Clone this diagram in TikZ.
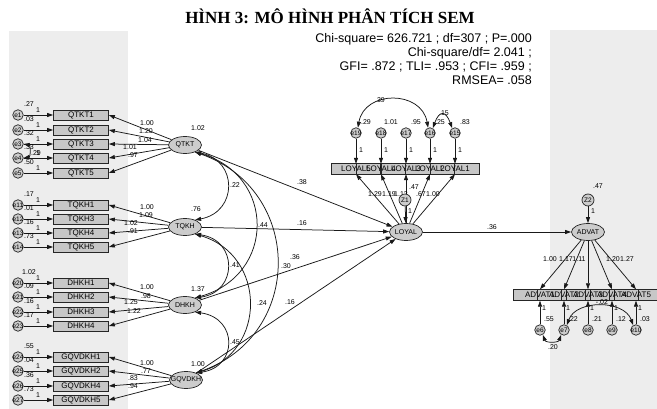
\documentclass[tikz,border=0pt]{standalone}
\usepackage{fontspec}
\setmainfont{Liberation Sans}
\newfontfamily\titlefont{Liberation Serif}
\usetikzlibrary{arrows.meta,shapes.geometric}

\newcommand{\zw}[1]{\makebox[0pt]{#1}}

\begin{document}
\begin{tikzpicture}[x=1pt,y=1pt,
    ind/.style={fill=black!22,minimum width=55pt,minimum height=10pt,inner sep=0pt,font=\fontsize{8}{8}\selectfont},
    lat/.style={ellipse,draw=black!85,line width=0.7pt,fill=black!20,minimum width=33pt,minimum height=17pt,inner sep=0pt,font=\fontsize{7}{7}\selectfont},
    err/.style={circle,draw=black!85,line width=0.7pt,fill=black!20,minimum size=10.5pt,inner sep=0pt,font=\fontsize{6.5}{6.5}\selectfont},
    est/.style={inner sep=0pt,font=\fontsize{7}{7}\selectfont},
    reg/.style={draw=black!90,line width=0.75pt,-{Triangle[length=6pt,width=4pt]}},
    cov/.style={draw=black!90,line width=0.75pt,{Triangle[length=6pt,width=4pt]}-{Triangle[length=6pt,width=4pt]}}
  ]
  \useasboundingbox (0,0) rectangle (657,-409);
  \fill[black!7] (9,-31) rectangle (128,-409);
  \fill[black!7] (550,-30) rectangle (657,-409);

  \node[font=\titlefont\bfseries\fontsize{17}{17}\selectfont] (title) at (330,-16) {HÌNH 3: MÔ HÌNH PHÂN TÍCH SEM};
  \node[anchor=north east,align=right,inner sep=0pt,font=\fontsize{12.5}{14}\selectfont] (fit) at (532,-33)
    {Chi-square= 626.721 ; df=307 ; P=.000\\Chi-square/df= 2.041 ;\\GFI= .872 ; TLI= .953 ; CFI= .959 ;\\RMSEA= .058};

  % latent variables
  \node[lat] (qtkt) at (185,-145) {\zw{QTKT}};
  \node[lat] (tqkh) at (185,-227) {\zw{TQKH}};
  \node[lat] (dhkh) at (185,-305) {\zw{DHKH}};
  \node[lat] (gqvdkh) at (186,-380) {\zw{GQVDKH}};
  \node[lat] (loyal) at (406,-232) {\zw{LOYAL}};
  \node[lat] (advat) at (588,-232) {\zw{ADVAT}};
  \node[est] (vqtkt) at (198,-128) {1.02};
  \node[est] (vtqkh) at (196,-209) {.76};
  \node[est] (vdhkh) at (198,-289) {1.37};
  \node[est] (vgqvdkh) at (198,-364) {1.00};

  % left indicators
  \foreach \n/\e/\y/\v/\l/\lx/\ly/\f in {
      QTKT1/e1/115/.27/1.00/147/123/qtkt, QTKT2/e2/130/.03/1.20/146/131/qtkt,
      QTKT3/e3/144/.32/1.04/145/140/qtkt, QTKT4/e4/158/.33/1.01/130/147/qtkt,
      QTKT5/e5/173/.50/.97/133/155/qtkt,
      TQKH1/e11/205/.17/1.00/147/207/tqkh, TQKH3/e12/219/.01/1.09/146/215/tqkh,
      TQKH4/e13/233/.16/1.02/131/223/tqkh, TQKH5/e14/247/.73/.91/133/231/tqkh,
      DHKH1/e20/283/1.02/1.00/147/287/dhkh, DHKH2/e21/297/.09/.98/146/296/dhkh,
      DHKH3/e22/312/.16/1.25/131/302/dhkh, DHKH4/e23/326/.17/1.22/134/311/dhkh,
      GQVDKH1/e24/357/.55/1.00/147/363/gqvdkh, GQVDKH2/e25/371/.04/.77/146/371/gqvdkh,
      GQVDKH4/e26/386/.36/.83/133/378/gqvdkh, GQVDKH5/e27/400/.73/.94/133/386/gqvdkh}{
    \node[ind,draw=black!85,line width=0.7pt] (\n) at (81,-\y) {\n};
    \node[err] (\e) at (18,-\y) {\zw{\e}};
    \draw[reg] (\e) -- (\n);
    \node[est] (o\e) at (38,-\y+5) {1};
    \node[est] (v\e) at (29,-\y+11) {\v};
    \draw[reg] (\f) -- (\n.east);
    \node[est] (l\n) at (\lx,-\ly) {\l};
  }
  \draw[cov] (e3.east) to[out=-10,in=10,looseness=1.3] (e4.east);
  \node[est] (c0) at (36,-153) {.29};

  % structural paths
  \draw[reg] (qtkt) -- (loyal);
  \draw[reg] (tqkh) -- (loyal);
  \draw[reg] (dhkh) -- (loyal);
  \draw[reg] (gqvdkh) -- (loyal);
  \draw[reg] (loyal) -- (advat);
  \node[est] (b1) at (302,-182) {.38};
  \node[est] (b2) at (302,-223) {.16};
  \node[est] (b3) at (295,-257) {.36};
  \node[est] (b4) at (290,-302) {.16};
  \node[est] (b5) at (492,-227) {.36};

  % covariances
  \draw[cov] (qtkt.-35) .. controls (238,-160) and (238,-212) .. (tqkh.35);
  \draw[cov] (qtkt.-35) .. controls (276,-175) and (276,-275) .. (dhkh.35);
  \draw[cov] (qtkt.-35) .. controls (304,-190) and (304,-335) .. (gqvdkh.35);
  \draw[cov] (tqkh.-35) .. controls (238,-240) and (238,-292) .. (dhkh.35);
  \draw[cov] (tqkh.-35) .. controls (267,-255) and (267,-352) .. (gqvdkh.35);
  \draw[cov] (dhkh.-35) .. controls (238,-318) and (238,-367) .. (gqvdkh.35);
  \node[est] (c1) at (235,-185) {.22};
  \node[est] (c2) at (263,-225) {.44};
  \node[est] (c3) at (286,-266) {.30};
  \node[est] (c4) at (235,-265) {.41};
  \node[est] (c5) at (262,-303) {.24};
  \node[est] (c6) at (235,-342) {.45};

  % loyal indicators
  \foreach \i/\x in {5/356,4/381,3/406,2/430,1/455}
    \node[ind,minimum width=48pt] (LOYAL\i) at (\x,-169) {};
  \foreach \i/\e/\x/\v/\l/\lx in {5/e19/356/.29/1.29/375, 4/e18/381/1.01/1.19/389,
      3/e17/406/.95/1.12/401, 2/e16/430/.25/.67/421, 1/e15/455/.83/1.00/433}{
    \draw[draw=black!85,line width=0.7pt] (LOYAL\i.south west) rectangle (LOYAL\i.north east);
    \node[est,font=\fontsize{8}{8}\selectfont] (t\i) at (\x,-169) {LOYAL\i};
    \node[err] (\e) at (\x,-133) {\zw{\e}};
    \draw[reg] (\e) -- (LOYAL\i);
    \node[est] (o\e) at (\x+5,-150) {1};
    \node[est] (v\e) at (\x+10,-122) {\v};
    \draw[reg] (loyal) -- (LOYAL\i.south);
    \node[est] (lLOYAL\i) at (\lx,-194) {\l};
  }
  \draw[cov] (e19.70) to[out=80,in=100,looseness=1.4] (e16.110);
  \draw[cov] (e16.60) to[out=70,in=110,looseness=2.5] (e15.120);
  \node[est] (c7) at (380,-100) {.39};
  \node[est] (c10) at (444,-113) {.15};
  \node[est] (z1) [err,minimum size=12pt] at (405,-200) {\zw{Z1}};
  \draw[reg] (z1) -- (loyal);
  \node[est] (vz1) at (414,-187) {.47};
  \node[est] (oz1) at (410,-211) {1};

  % advat indicators
  \foreach \i/\x in {1/540,2/564,3/588,4/612,5/636}
    \node[ind,minimum width=52pt,minimum height=11pt] (ADVAT\i) at (\x,-295) {};
  \foreach \i/\e/\x/\v/\l/\lx in {1/e6/540/.55/1.00/550, 2/e7/564/.22/1.17/566,
      3/e8/588/.21/1.11/579, 4/e9/612/.12/1.20/613, 5/e10/636/.03/1.27/627}{
    \draw[draw=black!85,line width=0.7pt] (ADVAT\i.south west) rectangle (ADVAT\i.north east);
    \node[est,font=\fontsize{8}{8}\selectfont] (t\i) at (\x,-295) {ADVAT\i};
    \node[err] (\e) at (\x,-330) {\zw{\e}};
    \draw[reg] (\e) -- (ADVAT\i);
    \node[est] (o\e) at (\x+4,-308) {1};
    \node[est] (v\e) at (\x+9,-319) {\v};
    \draw[reg] (advat) -- (ADVAT\i.north);
    \node[est] (lADVAT\i) at (\lx,-259) {\l};
  }
  \draw[cov] (e7.60) to[out=70,in=110,looseness=1.05] (e10.120);
  \draw[cov] (e6.-60) to[out=-70,in=-110,looseness=1.2] (e7.-120);
  \node[est] (c8) at (602,-302) {-.02};
  \node[est] (c9) at (553,-347) {.20};
  \node[est] (z2) [err,minimum size=12pt] at (588,-200) {\zw{Z2}};
  \draw[reg] (z2) -- (advat);
  \node[est] (vz2) at (598,-186) {.47};
  \node[est] (oz2) at (593,-211) {1};
\end{tikzpicture}
\end{document}
